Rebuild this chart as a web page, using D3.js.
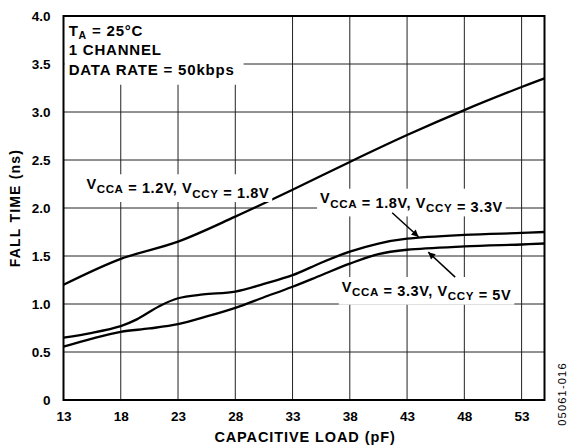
<!DOCTYPE html>
<html lang="en">
<head>
<meta charset="utf-8">
<title>Fall Time vs Capacitive Load</title>
<script src="https://cdnjs.cloudflare.com/ajax/libs/d3/7.8.5/d3.min.js"></script>
<style>
  body { margin: 0; background: #fff; }
  text { font-family: "Liberation Sans", Arial, Helvetica, sans-serif; font-weight: bold; fill: #000; }
  .grid line { stroke: #222; stroke-width: 1; }
  .curve { fill: none; stroke: #000; stroke-width: 2.3; }
</style>
</head>
<body>
<svg id="chart" width="570" height="448"></svg>
<script>
// values
const xTicks = [13, 18, 23, 28, 33, 38, 43, 48, 53];
const yTicks = [0, 0.5, 1.0, 1.5, 2.0, 2.5, 3.0, 3.5, 4.0];

const load12 = [13, 18, 23, 28, 33, 38, 43, 48, 53, 55];
const fall12 = [1.2, 1.47, 1.65, 1.91, 2.19, 2.48, 2.76, 3.02, 3.26, 3.35];

const load18 = [13, 15.5, 18, 19.4, 21.4, 23, 25.2, 28, 30.5, 33, 35.5, 38, 40.5, 43, 48, 53, 55];
const fall18 = [0.65, 0.70, 0.77, 0.84, 0.98, 1.06, 1.10, 1.13, 1.21, 1.30, 1.43, 1.545, 1.63, 1.68, 1.72, 1.74, 1.75];

const load33 = [13, 15.5, 18, 20.5, 23, 25.5, 28, 30.5, 33, 35.5, 38, 40.5, 43, 48, 53, 55];
const fall33 = [0.555, 0.64, 0.71, 0.745, 0.79, 0.87, 0.96, 1.07, 1.18, 1.30, 1.42, 1.52, 1.565, 1.60, 1.62, 1.63];

const infoLines = [["T", "A", " = 25°C"], ["1 CHANNEL"], ["DATA RATE = 50kbps"]];

const svg = d3.select("#chart");
const mLeft = 63.5, mRight = 544.5, mTop = 16, mBottom = 400;

const x = d3.scaleLinear().domain([13, 55]).range([mLeft, mRight]);
const y = d3.scaleLinear().domain([0, 4]).range([mBottom, mTop]);

// grid
const grid = svg.append("g").attr("class", "grid");
grid.selectAll(".v").data(xTicks.slice(1)).enter().append("line")
  .attr("x1", d => x(d)).attr("x2", d => x(d)).attr("y1", mTop).attr("y2", mBottom);
grid.selectAll(".h").data(yTicks.slice(1, -1)).enter().append("line")
  .attr("x1", mLeft).attr("x2", mRight).attr("y1", d => y(d)).attr("y2", d => y(d));

// axes (labels only, no tick marks)
const xAxis = svg.append("g").attr("transform", `translate(0,${mBottom})`)
  .call(d3.axisBottom(x).tickValues(xTicks).tickSize(0).tickPadding(11).tickFormat(d3.format("d")));
const yAxis = svg.append("g").attr("transform", `translate(${mLeft},0)`)
  .call(d3.axisLeft(y).tickValues(yTicks).tickSize(0).tickPadding(13).tickFormat(d => d === 0 ? "0" : d3.format(".1f")(d)));
[xAxis, yAxis].forEach(a => {
  a.select(".domain").remove();
  a.selectAll("text").attr("font-size", 13.5).attr("font-family", null);
});

// series
const series = [[load12, fall12], [load18, fall18], [load33, fall33]];
const line = d3.line().x(d => x(d[0])).y(d => y(d[1])).curve(d3.curveCatmullRom.alpha(0.5));
svg.selectAll(".curve").data(series).enter().append("path")
  .attr("class", "curve")
  .attr("d", s => line(d3.zip(s[0], s[1])));

// label helper: text with subscripts and white box behind it
function label(parts, px, py, fs, pad) {
  const g = svg.append("g");
  const t = g.append("text").attr("x", px).attr("y", py).attr("font-size", fs).attr("letter-spacing", 0.6);
  parts.forEach(p => {
    if (p.sub) {
      t.append("tspan").attr("font-size", fs * 0.8).attr("dy", fs * 0.3).text(p.sub);
      t.append("tspan").attr("dy", -fs * 0.3).text("");
    } else {
      t.append("tspan").text(p.t);
    }
  });
  const b = t.node().getBBox();
  g.insert("rect", "text").attr("x", b.x - pad).attr("y", b.y - pad * 0.5)
    .attr("width", b.width + pad * 2).attr("height", b.height + pad).attr("fill", "#fff");
  return g;
}

// info box
const info = svg.append("g");
infoLines.forEach((l, i) => {
  const t = info.append("text").attr("x", x(13.45)).attr("y", y(3.79) + i * 19.3)
    .attr("font-size", 15).attr("letter-spacing", 0.8);
  t.append("tspan").text(l[0]);
  if (l.length > 1) {
    t.append("tspan").attr("font-size", 10.5).attr("dy", 3).text(l[1]);
    t.append("tspan").attr("dy", -3).text(l[2]);
  }
});
const ib = info.node().getBBox();
info.insert("rect", "text").attr("x", mLeft + 1).attr("y", mTop + 1)
  .attr("width", ib.x + ib.width + 8 - mLeft).attr("height", ib.y + ib.height + 6 - mTop).attr("fill", "#fff");

label([{t: "V"}, {sub: "CCA"}, {t: " = 1.2V, V"}, {sub: "CCY"}, {t: " = 1.8V"}], x(15.0), y(2.2), 14.5, 3);
label([{t: "V"}, {sub: "CCA"}, {t: " = 1.8V, V"}, {sub: "CCY"}, {t: " = 3.3V"}], x(35.4), y(2.05), 14.5, 3);
label([{t: "V"}, {sub: "CCA"}, {t: " = 3.3V, V"}, {sub: "CCY"}, {t: " = 5V"}], x(37.3), y(1.13), 14.5, 3);

// arrows
svg.append("defs").append("marker").attr("id", "ah")
  .attr("viewBox", "0 0 10 10").attr("refX", 10).attr("refY", 5)
  .attr("markerWidth", 11).attr("markerHeight", 7).attr("markerUnits", "userSpaceOnUse")
  .attr("orient", "auto")
  .append("path").attr("d", "M0,0L10,5L0,10z").attr("fill", "#000");
const arrows = [[41.7, 1.95, 44.0, 1.70], [47.2, 1.28, 44.85, 1.54]];
svg.selectAll(".arrow").data(arrows).enter().append("line")
  .attr("x1", d => x(d[0])).attr("y1", d => y(d[1]))
  .attr("x2", d => x(d[2])).attr("y2", d => y(d[3]))
  .attr("stroke", "#000").attr("stroke-width", 1.5).attr("marker-end", "url(#ah)");

// frame
svg.append("rect").attr("x", mLeft).attr("y", mTop).attr("width", mRight - mLeft).attr("height", mBottom - mTop)
  .attr("fill", "none").attr("stroke", "#000").attr("stroke-width", 2);

// titles
svg.append("text").attr("x", (mLeft + mRight) / 2 + 1).attr("y", 442).attr("text-anchor", "middle")
  .attr("font-size", 14.5).attr("letter-spacing", 0.9).text("CAPACITIVE LOAD (pF)");
svg.append("text").attr("transform", `translate(20,${208}) rotate(-90)`).attr("text-anchor", "middle")
  .attr("font-size", 14).attr("letter-spacing", 1.2).text("FALL TIME (ns)");
svg.append("text").attr("transform", "translate(566,394) rotate(-90)").attr("text-anchor", "middle")
  .attr("font-size", 11).attr("letter-spacing", 1.2).attr("fill", "#333")
  .style("font-weight", "normal").text("05061-016");
</script>
</body>
</html>
